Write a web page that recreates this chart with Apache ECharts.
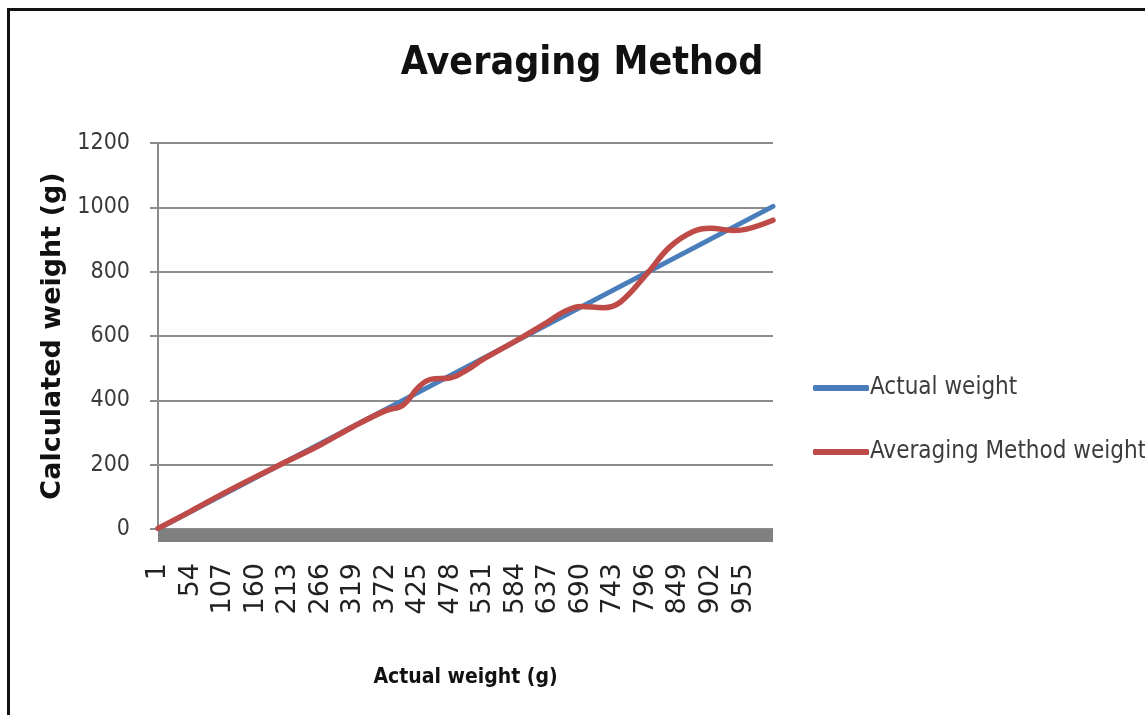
<!DOCTYPE html>
<html>
<head>
<meta charset="utf-8">
<title>Averaging Method</title>
<script src="https://cdn.jsdelivr.net/npm/echarts@6/dist/echarts.min.js"></script>
<style>
  html, body { margin: 0; padding: 0; background: #fff; overflow: hidden; }
  #chart { position: absolute; left: 0; top: 0; width: 1145px; height: 715px; }
  #frame { position: absolute; left: 7px; top: 8px; width: 1200px; height: 800px;
           border-top: 3px solid #111; border-left: 3px solid #111; pointer-events: none; }
</style>
</head>
<body>
<div id="chart"></div>
<div id="frame"></div>
<script>
// Reference line: calculated weight equals the actual weight
const actualWeightX = [1, 1003];
const actualWeightY = [1, 1003];

// Weight estimated by the averaging method, sampled along the actual weight (g)
const averagingX = [1, 54, 107, 160, 213, 266, 319, 372, 400, 425, 445, 478, 504, 531,
                    584, 637, 662, 690, 727, 754, 796, 835, 873, 901, 939, 960, 1003];
const averagingY = [2, 55, 110, 162, 212, 262, 318, 368, 385, 440, 465, 470, 494, 528,
                    585, 645, 675, 692, 688, 705, 790, 877, 925, 935, 928, 932, 960];

// Axis settings
const xStart = 1, xEnd = 1003, xStep = 53;
const yMax = 1200, yStep = 200;

const pairs = (xs, ys) => xs.map((x, i) => [x, ys[i]]);

const narrow = "'Liberation Sans Narrow', 'DejaVu Sans Condensed', 'Arial Narrow', sans-serif";

const chart = echarts.init(document.getElementById('chart'), null, { renderer: 'canvas' });
chart.setOption({
  backgroundColor: '#ffffff',
  animation: false,
  graphic: [{
    type: 'text',
    x: 582,
    y: 64,
    style: {
      text: 'Averaging Method',
      textAlign: 'center',
      textVerticalAlign: 'middle',
      fontFamily: narrow,
      fontWeight: 'bold',
      fontSize: 39,
      fill: '#111'
    }
  }],
  legend: {
    orient: 'vertical',
    left: 808,
    top: 371,
    icon: 'roundRect',
    itemWidth: 56,
    itemHeight: 6,
    itemGap: 40,
    textStyle: { fontFamily: narrow, fontSize: 24, color: '#3c3c3c', padding: [0, 0, 0, -4] },
    data: ['Actual weight', 'Averaging Method weight']
  },
  grid: { left: 158, right: 372, top: 143, bottom: 186, containLabel: false },
  xAxis: {
    type: 'value',
    min: xStart,
    max: xEnd,
    interval: xStep,
    name: 'Actual weight (g)',
    nameLocation: 'middle',
    nameGap: 132,
    nameTextStyle: { fontFamily: narrow, fontWeight: 'bold', fontSize: 21, color: '#111' },
    offset: 6,
    axisLine: { show: true, onZero: false, lineStyle: { color: '#808080', width: 13, cap: 'butt' } },
    axisTick: { show: false },
    splitLine: { show: false },
    axisLabel: {
      rotate: 90,
      margin: 28,
      showMaxLabel: false,
      fontFamily: 'DejaVu Sans',
      fontSize: 27,
      color: '#222'
    }
  },
  yAxis: {
    type: 'value',
    min: 0,
    max: yMax,
    interval: yStep,
    name: 'Calculated weight (g)',
    nameLocation: 'middle',
    nameGap: 87,
    nameTextStyle: { fontFamily: 'DejaVu Sans', fontWeight: 'bold', fontSize: 27, color: '#111' },
    axisLine: { show: true, lineStyle: { color: '#8c8c8c', width: 2 } },
    axisTick: { show: true, length: 8, lineStyle: { color: '#8c8c8c', width: 2 } },
    splitLine: { show: true, lineStyle: { color: '#8c8c8c', width: 2 } },
    axisLabel: {
      margin: 28,
      fontFamily: narrow,
      fontSize: 23,
      color: '#3a3a3a',
      formatter: v => String(v)
    }
  },
  series: [
    {
      name: 'Actual weight',
      type: 'line',
      data: pairs(actualWeightX, actualWeightY),
      symbol: 'none',
      lineStyle: { color: '#4a7ebb', width: 5, cap: 'round' },
      itemStyle: { color: '#4a7ebb' },
      z: 2
    },
    {
      name: 'Averaging Method weight',
      type: 'line',
      data: pairs(averagingX, averagingY),
      symbol: 'none',
      smooth: 0.4,
      lineStyle: { color: '#be4b48', width: 5.5, cap: 'round' },
      itemStyle: { color: '#be4b48' },
      z: 3
    }
  ]
});
</script>
</body>
</html>
